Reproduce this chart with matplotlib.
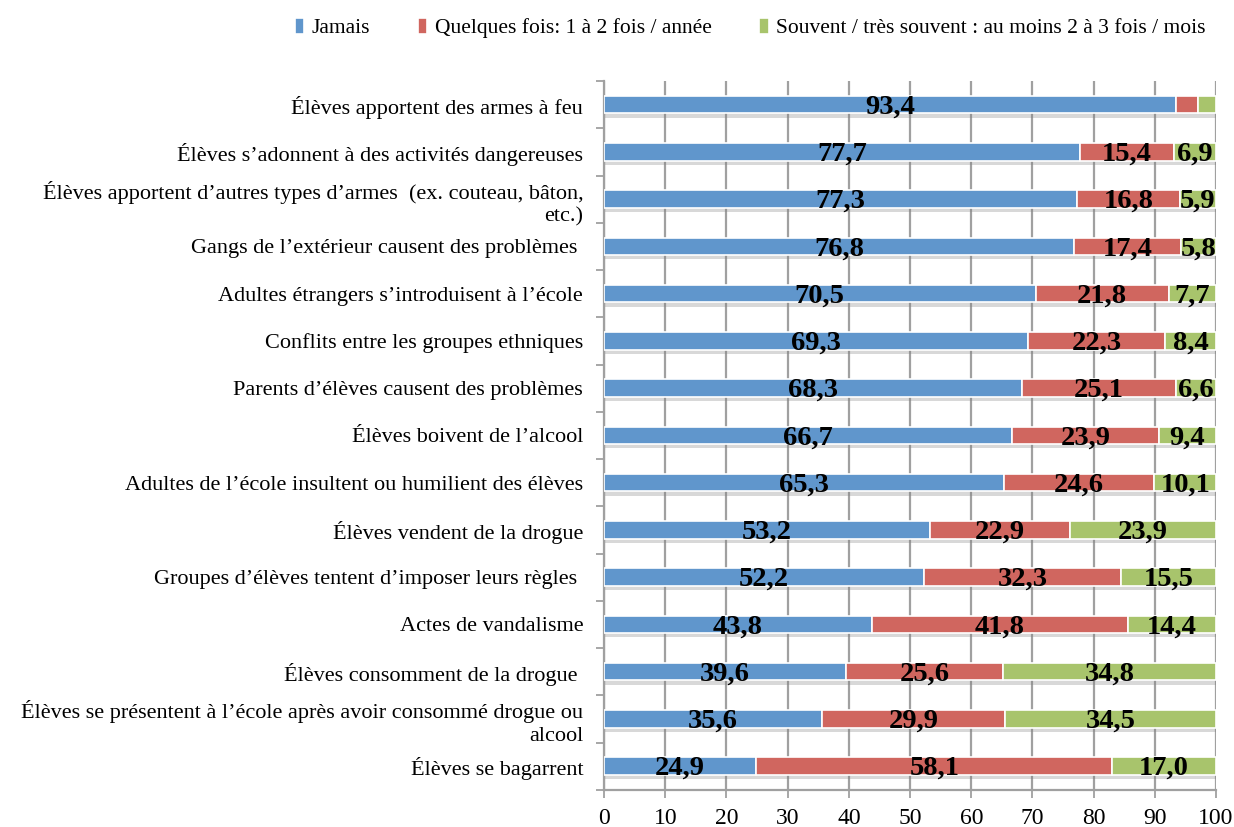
import numpy as np
import matplotlib
matplotlib.use('Agg')
import matplotlib.pyplot as plt
import matplotlib.patheffects as pe
from matplotlib.ticker import FixedLocator

Categories = [
    "Élèves apportent des armes à feu",
    "Élèves s’adonnent à des activités dangereuses",
    "Élèves apportent d’autres types d’armes  (ex. couteau, bâton,\netc.)",
    "Gangs de l’extérieur causent des problèmes ",
    "Adultes étrangers s’introduisent à l’école",
    "Conflits entre les groupes ethniques",
    "Parents d’élèves causent des problèmes",
    "Élèves boivent de l’alcool",
    "Adultes de l’école insultent ou humilient des élèves",
    "Élèves vendent de la drogue",
    "Groupes d’élèves tentent d’imposer leurs règles ",
    "Actes de vandalisme",
    "Élèves consomment de la drogue ",
    "Élèves se présentent à l’école après avoir consommé drogue ou\nalcool",
    "Élèves se bagarrent",
]

Jamais = [93.4, 77.7, 77.3, 76.8, 70.5, 69.3, 68.3, 66.7, 65.3, 53.2, 52.2, 43.8, 39.6, 35.6, 24.9]
Quelques = [3.7, 15.4, 16.8, 17.4, 21.8, 22.3, 25.1, 23.9, 24.6, 22.9, 32.3, 41.8, 25.6, 29.9, 58.1]
Souvent = [2.9, 6.9, 5.9, 5.8, 7.7, 8.4, 6.6, 9.4, 10.1, 23.9, 15.5, 14.4, 34.8, 34.5, 17.0]

SeriesNames = ["Jamais", "Quelques fois: 1 à 2 fois / année",
               "Souvent / très souvent : au moins 2 à 3 fois / mois"]
Colors = ["#6096CC", "#D0665F", "#A8C46C"]

plt.rcParams['font.family'] = ['Liberation Serif', 'DejaVu Serif']

fig = plt.figure(figsize=(12.34, 8.27), dpi=100)
ax = fig.add_axes([0.4895, 0.045, 0.496, 0.857])

Ypos = np.arange(len(Categories))
Left = np.zeros(len(Categories))
Shadow = [pe.SimplePatchShadow(offset=(0.5, -3), shadow_rgbFace='0.5', alpha=0.3), pe.Normal()]

for Vals, Name, Col in zip([Jamais, Quelques, Souvent], SeriesNames, Colors):
    Vals = np.array(Vals)
    Bars = ax.barh(Ypos, Vals, left=Left, height=0.37, color=Col, edgecolor='white',
                   linewidth=1.2, label=Name, zorder=3)
    for b in Bars:
        b.set_path_effects(Shadow)
    for y, l, v in zip(Ypos, Left, Vals):
        if v > 5:  # small segments are not labelled
            ax.text(l + v / 2, y + 0.05, f"{v:.1f}".replace('.', ','), ha='center', va='center',
                    fontsize=20.5, fontweight='bold', color='black', zorder=5)
    Left = Left + Vals

ax.set_xlim(0, 100)
ax.set_ylim(len(Categories) - 0.5, -0.5)
ax.set_xticks(np.arange(0, 101, 10))
ax.set_yticks(Ypos)
ax.set_yticklabels(Categories, fontsize=16, ha='right', linespacing=1.25)
ax.yaxis.set_minor_locator(FixedLocator(np.arange(-0.5, len(Categories), 1)))

ax.grid(axis='x', color='#A0A0A0', linewidth=1.6, zorder=0)
ax.set_axisbelow(True)

for s in ['top', 'right']:
    ax.spines[s].set_visible(False)
for s in ['left', 'bottom']:
    ax.spines[s].set_color('#A0A0A0')
    ax.spines[s].set_linewidth(1.6)

ax.tick_params(axis='y', which='major', length=0, pad=15)
ax.tick_params(axis='y', which='minor', length=6, width=1.3, color='#A0A0A0')
ax.tick_params(axis='x', length=6, width=1.3, color='#A0A0A0', labelsize=17, pad=7)

Leg = fig.legend(loc='center', bbox_to_anchor=(0.608, 0.966), ncol=3, frameon=False, fontsize=15.5,
                 handlelength=0.45, handleheight=0.8, handletextpad=0.35, columnspacing=2.2)
for h in Leg.legend_handles:
    h.set_path_effects([])

plt.savefig('out.png', dpi=100)
